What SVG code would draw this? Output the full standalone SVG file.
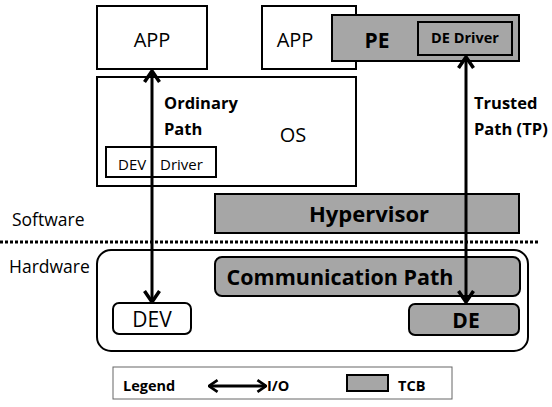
<svg xmlns="http://www.w3.org/2000/svg" width="552" height="407" viewBox="0 0 552 407">
<style>
.box{fill:#fff;stroke:#000;stroke-width:2}
.tcb{fill:#a6a6a6;stroke:#000;stroke-width:2}
.t{font-family:"Open Sans","Liberation Sans",sans-serif;fill:#000}
.b{font-weight:bold}
.io{stroke:#000;stroke-width:3;fill:none}
</style>
<defs>
<marker id="ah" viewBox="0 0 14 18" refX="12.5" refY="9" markerWidth="14" markerHeight="18" orient="auto-start-reverse" markerUnits="userSpaceOnUse">
<polyline points="1.5,1.5 12.5,9 1.5,16.5" fill="none" stroke="#000" stroke-width="3.5"/>
</marker>
<marker id="ahs" viewBox="0 0 14 18" refX="12.5" refY="9" markerWidth="11" markerHeight="14" orient="auto-start-reverse" markerUnits="userSpaceOnUse">
<polyline points="1.5,1.5 12.5,9 1.5,16.5" fill="none" stroke="#000" stroke-width="3.5"/>
</marker>
</defs>
<rect width="552" height="407" fill="#fff"/>
<g id="app1"><rect class="box" x="97" y="6" width="110" height="63"/><text class="t" x="152" y="47" font-size="20" text-anchor="middle">APP</text></g>
<g id="app2"><rect class="box" x="262" y="6" width="94" height="63"/><text class="t" x="295" y="47" font-size="20" text-anchor="middle">APP</text></g>
<g id="pe"><rect class="tcb" x="332" y="15" width="187" height="46"/><text class="t b" x="377" y="48" font-size="21" text-anchor="middle">PE</text></g>
<g id="dedriver"><rect class="tcb" x="418" y="22" width="94" height="33"/><text class="t b" x="465" y="43" font-size="14.5" text-anchor="middle">DE Driver</text></g>
<g id="os"><rect class="box" x="97" y="77" width="259" height="109"/><text class="t" x="293" y="142" font-size="20" text-anchor="middle">OS</text><text class="t b" x="164" y="109" font-size="16.5">Ordinary</text><text class="t b" x="164" y="135" font-size="16.5">Path</text></g>
<g id="devdriver"><rect class="box" x="106" y="147" width="110" height="30"/><text class="t" x="118" y="170" font-size="15">DEV</text><text class="t" x="160" y="170" font-size="15">Driver</text></g>
<g id="hypervisor"><rect class="tcb" x="215" y="194" width="304" height="39"/><text class="t b" x="369" y="222" font-size="22" text-anchor="middle">Hypervisor</text></g>
<text class="t" x="12" y="226" font-size="17.5">Software</text>
<line x1="0" y1="242" x2="540" y2="242" stroke="#000" stroke-width="3" stroke-dasharray="3,2"/>
<text class="t" x="9" y="273" font-size="17.5">Hardware</text>
<g id="hardware"><rect x="97" y="250" width="431" height="101" rx="14" fill="#fff" stroke="#000" stroke-width="2"/></g>
<g id="commpath"><rect class="tcb" x="215" y="257" width="305" height="39" rx="7"/><text class="t b" x="340" y="285" font-size="21.5" text-anchor="middle">Communication Path</text></g>
<g id="dev"><rect class="box" x="113" y="303" width="78" height="31" rx="6"/><text class="t" x="152" y="327" font-size="21" text-anchor="middle">DEV</text></g>
<g id="de"><rect class="tcb" x="409" y="304" width="110" height="31" rx="6"/><text class="t b" x="466" y="328" font-size="21" text-anchor="middle">DE</text></g>
<text class="t b" x="474" y="109" font-size="16.5">Trusted</text>
<text class="t b" x="474" y="135" font-size="16.5">Path (TP)</text>
<g id="connectors">
<line class="io" x1="152" y1="71" x2="152" y2="302" marker-start="url(#ah)" marker-end="url(#ah)"/>
<line class="io" x1="466" y1="57" x2="466" y2="302" marker-start="url(#ah)" marker-end="url(#ah)"/>
</g>
<g id="legend">
<rect x="113" y="367" width="339" height="32" fill="#fff" stroke="#666" stroke-width="1"/>
<text class="t b" x="123" y="391" font-size="14.5">Legend</text>
<line class="io" x1="209" y1="386" x2="266" y2="386" marker-start="url(#ahs)" marker-end="url(#ahs)"/>
<text class="t b" x="267" y="391" font-size="14.5">I/O</text>
<rect class="tcb" x="347" y="375" width="41" height="16"/>
<text class="t b" x="398" y="391" font-size="14.5">TCB</text>
</g>
</svg>
